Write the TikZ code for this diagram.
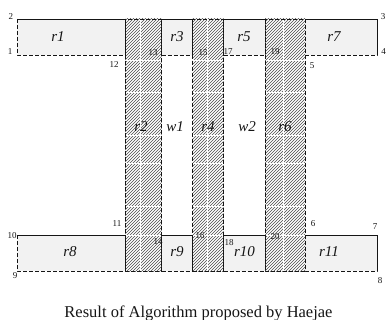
\documentclass[tikz,border=0pt]{standalone}
\usepackage{fontspec}
\setmainfont{Liberation Serif}
\usetikzlibrary{patterns}
\definecolor{cInk}{HTML}{151515}
\definecolor{cCell}{HTML}{F2F2F2}
\definecolor{cHatch}{HTML}{4A4A4A}
\tikzset{
  cut/.style={draw=cInk, line width=0.6pt, dash pattern=on 4pt off 2pt},
  cell/.style={cut, fill=cCell},
  strip/.style={pattern=north east lines, pattern color=cHatch},
  seam/.style={draw=white, line width=0.6pt},
  rim/.style={draw=cInk, line width=0.6pt},
  lbl/.style={font=\fontsize{15}{15}\selectfont\itshape, text=cInk, inner sep=0pt},
  vno/.style={font=\fontsize{9}{9}\selectfont, text=cInk, inner sep=0pt},
  capt/.style={font=\fontsize{16.5}{17}\selectfont, text=cInk, inner sep=0pt, anchor=base},
}

\begin{document}
\begin{tikzpicture}[x=1pt, y=-1pt]
  \useasboundingbox (0,0) rectangle (387,320);

  % ---- upper row of cells
  \draw[cell] (17,19) rectangle (125,55);
  \draw[cell] (161.7,19) rectangle (192.5,55);
  \draw[cell] (223.5,19) rectangle (265,55);
  \draw[cell] (305,19) rectangle (377,55);

  % ---- lower row of cells
  \draw[cell] (17,235) rectangle (125,271);
  \draw[cell] (161.7,235) rectangle (192.5,271);
  \draw[cell] (223.5,235) rectangle (265,271);
  \draw[cell] (305,235) rectangle (377,271);

  % ---- hatched columns
  \fill[strip] (125,19) rectangle (161.7,271);
  \fill[strip] (192.5,19) rectangle (223.5,271);
  \fill[strip] (265,19) rectangle (305,271);
  \foreach \yy in {60,92,135,163,206,235} {
    \draw[seam] (125.5,\yy) -- (161.2,\yy);
    \draw[seam] (193,\yy) -- (223,\yy);
    \draw[seam] (265.5,\yy) -- (304.5,\yy);
  }
  \draw[seam] (140,19.5) -- (140,270.5);
  \draw[seam] (207,19.5) -- (207,270.5);
  \draw[seam] (283,19.5) -- (283,270.5);
  \draw[cut] (125,19) rectangle (161.7,271);
  \draw[cut] (192.5,19) rectangle (223.5,271);
  \draw[cut] (265,19) rectangle (305,271);

  % ---- solid outer edges
  \draw[rim] (17,19) -- (125,19) -- (125,55);
  \draw[rim] (161.7,19) -- (192.5,19);
  \draw[rim] (223.5,19) -- (265,19);
  \draw[rim] (305,19) -- (377,19) -- (377,55);
  \draw[rim] (17,235) -- (125,235) -- (125,271);
  \draw[rim] (161.7,235) -- (192.5,235);
  \draw[rim] (223.5,235) -- (265,235);
  \draw[rim] (305,235) -- (377,235) -- (377,271);

  % ---- region names
  \node[lbl] (r1) at (58,37) {r1};
  \node[lbl] (r3) at (177,37) {r3};
  \node[lbl] (r5) at (244,37) {r5};
  \node[lbl] (r7) at (334,37) {r7};
  \node[lbl] (r2) at (141,127) {r2};
  \node[lbl] (w1) at (175,127) {w1};
  \node[lbl] (r4) at (208,127) {r4};
  \node[lbl] (w2) at (247,127) {w2};
  \node[lbl] (r6) at (285,127) {r6};
  \node[lbl] (r8) at (70,252) {r8};
  \node[lbl] (r9) at (177,252) {r9};
  \node[lbl] (r10) at (244.5,252) {r10};
  \node[lbl] (r11) at (329,252) {r11};

  % ---- vertex numbers
  \node[vno] (v1) at (10,52) {1};
  \node[vno] (v2) at (11,17) {2};
  \node[vno] (v3) at (383,17) {3};
  \node[vno] (v4) at (383.5,52) {4};
  \node[vno] (v5) at (312,66) {5};
  \node[vno] (v6) at (313,224) {6};
  \node[vno] (v7) at (375,227) {7};
  \node[vno] (v8) at (380,281) {8};
  \node[vno] (v9) at (15,276) {9};
  \node[vno] (v10) at (12,236) {10};
  \node[vno] (v11) at (117,224) {11};
  \node[vno] (v12) at (114,65) {12};
  \node[vno] (v13) at (153,53) {13};
  \node[vno] (v14) at (158,242) {14};
  \node[vno] (v15) at (203,53) {15};
  \node[vno] (v16) at (200,236) {16};
  \node[vno] (v17) at (228,52) {17};
  \node[vno] (v18) at (229,243) {18};
  \node[vno] (v19) at (275,52) {19};
  \node[vno] (v20) at (275,237) {20};

  \node[capt] (caption) at (198.5,317) {Result of Algorithm proposed by Haejae};
\end{tikzpicture}
\end{document}
